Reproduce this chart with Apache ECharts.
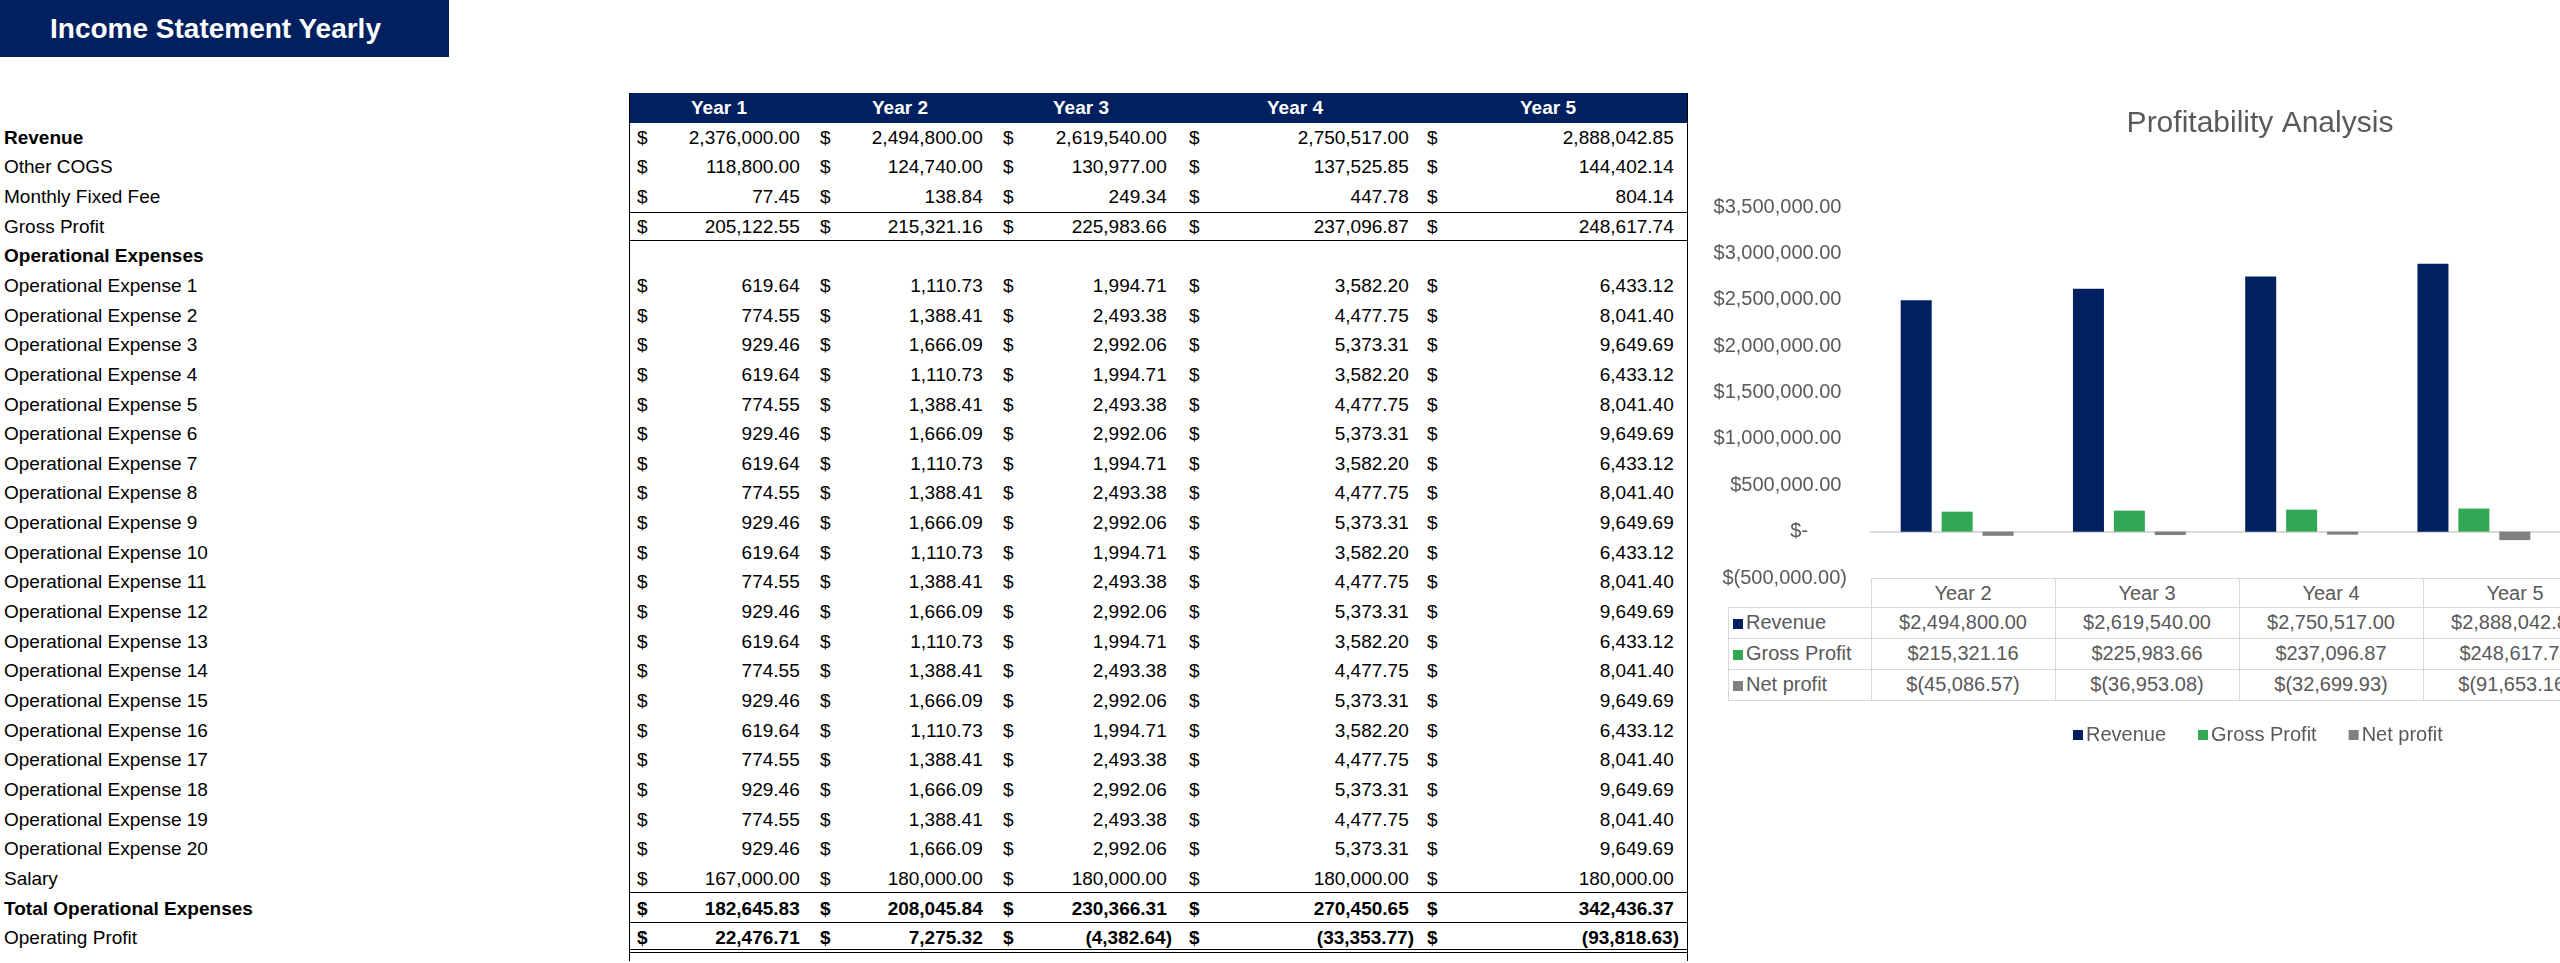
<!DOCTYPE html>
<html><head><meta charset="utf-8">
<script src="https://cdn.jsdelivr.net/npm/echarts@6/dist/echarts.min.js"></script>
<style>
html,body{margin:0;padding:0;background:#fff;width:2560px;height:963px;overflow:hidden;font-family:"Liberation Sans",Arial,sans-serif;}
.a{position:absolute;white-space:nowrap;}
#chart{position:absolute;left:0;top:0;width:2560px;height:963px;z-index:2;}
</style></head><body>
<div id="page"></div>
<div id="chart"></div>
<script>
// ---------- left table data ----------
const yearLabels = ["Year 1","Year 2","Year 3","Year 4","Year 5"];
const revenue = [2376000.00,2494800.00,2619540.00,2750517.00,2888042.85];
const otherCogs = [118800.00,124740.00,130977.00,137525.85,144402.14];
const monthlyFee = [77.45,138.84,249.34,447.78,804.14];
const grossProfit = [205122.55,215321.16,225983.66,237096.87,248617.74];
const opexA = [619.64,1110.73,1994.71,3582.20,6433.12];
const opexB = [774.55,1388.41,2493.38,4477.75,8041.40];
const opexC = [929.46,1666.09,2992.06,5373.31,9649.69];
const opexRows = [opexA,opexB,opexC,opexA,opexB,opexC,opexA,opexB,opexC,opexA,opexB,opexC,opexA,opexB,opexC,opexA,opexB,opexC,opexB,opexC];
const salary = [167000.00,180000.00,180000.00,180000.00,180000.00];
const totalOpex = [182645.83,208045.84,230366.31,270450.65,342436.37];
const operatingProfit = [22476.71,7275.32,-4382.64,-33353.77,-93818.63];
// ---------- chart data ----------
const chartCategories = ["Year 2","Year 3","Year 4","Year 5"];
const chartRevenue = [2494800.00,2619540.00,2750517.00,2888042.85];
const chartGross = [215321.16,225983.66,237096.87,248617.74];
const chartNet = [-45086.57,-36953.08,-32699.93,-91653.16];
const seriesNames = ["Revenue","Gross Profit","Net profit"];
const seriesColors = ["#002060","#31A853","#808080"];

const page = document.getElementById('page');
function add(html, css){const d=document.createElement('div');d.className='a';d.style.cssText=css;d.innerHTML=html;page.appendChild(d);return d;}
function fmt(v){const s=Math.abs(v).toLocaleString('en-US',{minimumFractionDigits:2,maximumFractionDigits:2});return v<0?'('+s+')':s+'&nbsp;';}

add('Income Statement Yearly','left:0;top:0;width:449px;height:57px;background:#002060;color:#fff;font-weight:bold;font-size:28px;line-height:57px;text-indent:50px;');

const T0=93, RH=29.65, TL=629, TR=1687;
const FS='19px';
const dollarX=[637,820,1003,1189,1427];
const valR=[805,988,1172,1414,1679];
const headX=[719,900,1081,1295,1548];
add('','left:'+TL+'px;top:'+T0+'px;width:'+(TR-TL)+'px;height:'+RH+'px;background:#002060;');
yearLabels.forEach((y,i)=>add(y,'left:'+(headX[i]-40)+'px;width:80px;text-align:center;top:'+T0+'px;line-height:'+RH+'px;color:#fff;font-weight:bold;font-size:'+FS+';'));
const rows=[["Revenue",revenue,true],["Other COGS",otherCogs],["Monthly Fixed Fee",monthlyFee],["Gross Profit",grossProfit],["Operational Expenses",null,true]];
opexRows.forEach((r,i)=>rows.push(["Operational Expense "+(i+1),r]));
rows.push(["Salary",salary],["Total Operational Expenses",totalOpex,true],["Operating Profit",operatingProfit]);
rows.forEach((r,k)=>{
  const top=T0+RH*(k+1);
  add(r[0],'left:4px;top:'+top+'px;line-height:'+RH+'px;font-size:'+FS+';color:#000;'+(r[2]?'font-weight:bold;':''));
  if(r[1]) r[1].forEach((v,i)=>{
    const b=(r[0].startsWith('Total')||r[0]==='Operating Profit')?'font-weight:bold;':'';
    add('$','left:'+dollarX[i]+'px;top:'+top+'px;line-height:'+RH+'px;font-size:'+FS+';'+b);
    add(fmt(v),'left:'+(valR[i]-200)+'px;width:200px;text-align:right;top:'+top+'px;line-height:'+RH+'px;font-size:'+FS+';'+b);
  });
});
const bottom=T0+RH*(rows.length+1);
add('','left:'+TL+'px;top:'+T0+'px;width:0;height:'+(bottom-T0+8)+'px;border-left:1.5px solid #000;');
add('','left:'+TR+'px;top:'+T0+'px;width:0;height:'+(bottom-T0+8)+'px;border-left:1.5px solid #000;');
add('','left:'+TL+'px;top:'+(T0+RH*4)+'px;width:'+(TR-TL)+'px;height:'+RH+'px;border-top:1.5px solid #000;border-bottom:1.5px solid #000;box-sizing:border-box;');
add('','left:'+TL+'px;top:'+(T0+RH*27-2)+'px;width:'+(TR-TL)+'px;height:0;border-top:1.5px solid #000;');
add('','left:'+TL+'px;top:'+(T0+RH*28-1)+'px;width:'+(TR-TL)+'px;height:'+(RH+1)+'px;border-top:1.5px solid #000;border-bottom:4px double #000;box-sizing:border-box;');

// ---------- chart data table (HTML) ----------
const DL=1728, C0=1871, CW=184, HT=578, DR=[607,638,669,700];
const line='#D9D9D9';
add('','left:'+C0+'px;top:'+HT+'px;width:'+(CW*4)+'px;height:0;border-top:1.5px solid '+line+';');
for(let j=0;j<4;j++) add('','left:'+DL+'px;top:'+DR[j]+'px;width:'+(C0+CW*4-DL)+'px;height:0;border-top:1.5px solid '+line+';');
add('','left:'+DL+'px;top:'+DR[0]+'px;width:0;height:'+(DR[3]-DR[0])+'px;border-left:1.5px solid '+line+';');
for(let c=0;c<=4;c++) add('','left:'+(C0+CW*c)+'px;top:'+HT+'px;width:0;height:'+(DR[3]-HT)+'px;border-left:1.5px solid '+line+';');
chartCategories.forEach((c,i)=>add(c,'left:'+(C0+CW*i)+'px;width:'+CW+'px;text-align:center;top:'+HT+'px;line-height:31px;font-size:20px;color:#595959;'));
const tableSeries=[chartRevenue,chartGross,chartNet];
function money(v){const s=Math.abs(v).toLocaleString('en-US',{minimumFractionDigits:2,maximumFractionDigits:2});return v<0?'$('+s+')':'$'+s;}
tableSeries.forEach((arr,r)=>{
  add('<span style="display:inline-block;width:10px;height:10px;background:'+seriesColors[r]+';margin-right:3px;"></span>'+seriesNames[r],'left:'+(DL+5)+'px;top:'+DR[r]+'px;line-height:31px;font-size:20px;color:#595959;');
  arr.forEach((v,i)=>add(money(v),'left:'+(C0+CW*i)+'px;width:'+CW+'px;text-align:center;top:'+DR[r]+'px;line-height:31px;font-size:20px;color:#595959;'));
});

// ---------- ECharts ----------
const chart=echarts.init(document.getElementById('chart'),null,{renderer:'canvas'});
function axisFmt(v){if(v===0)return '$-       ';const s=Math.abs(v).toLocaleString('en-US',{minimumFractionDigits:2,maximumFractionDigits:2});return v<0?'$('+s+')':'$'+s+' ';}
chart.setOption({
  backgroundColor:'transparent',
  animation:false,
  title:{text:'Profitability Analysis',left:2255,top:104,textAlign:'center',textStyle:{fontFamily:'Liberation Sans',fontSize:30,fontWeight:'normal',color:'#595959'}},
  legend:{data:seriesNames,left:2068,top:720,icon:'rect',itemWidth:10,itemHeight:10,itemGap:32,textStyle:{fontFamily:'Liberation Sans',fontSize:20,color:'#595959',padding:[0,0,0,-2]}},
  grid:{left:1871,top:207,width:CW*4,height:371},
  xAxis:{type:'category',data:chartCategories,axisLabel:{show:false},axisTick:{show:false},axisLine:{onZero:true,lineStyle:{color:'#D9D9D9',width:2}}},
  yAxis:{type:'value',min:-500000,max:3500000,interval:500000,splitLine:{show:false},axisLine:{show:false},axisTick:{show:false},
    axisLabel:{formatter:axisFmt,margin:24,fontFamily:'Liberation Sans',fontSize:20,color:'#595959'}},
  series:tableSeries.map((d,i)=>({name:seriesNames[i],type:'bar',data:d,barWidth:31,barGap:'32%',barCategoryGap:'39%',itemStyle:{color:seriesColors[i]}}))
});
</script>
</body></html>
